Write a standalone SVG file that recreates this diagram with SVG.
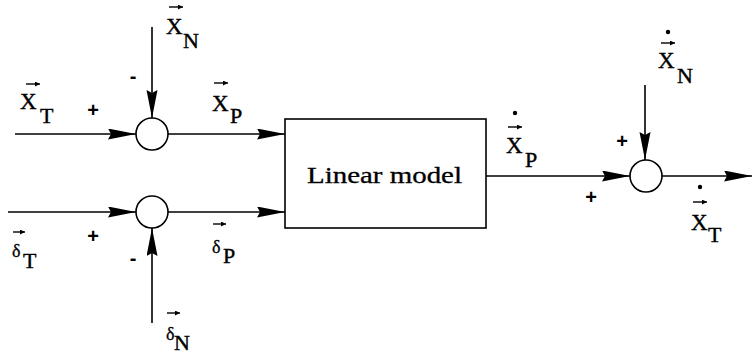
<svg xmlns="http://www.w3.org/2000/svg" width="752" height="356" viewBox="0 0 752 356">
<style>
.ln{stroke:#000;stroke-width:1.6;fill:none}
.c{stroke:#000;stroke-width:1.6;fill:#fff}
.t{font-family:"Liberation Serif",serif;font-size:22px;fill:#000;stroke:#000;stroke-width:0.4}
.x{font-size:23px}
.d{font-family:"Liberation Serif",serif;font-size:18px;fill:#000;stroke:#000;stroke-width:0.3}
.s{font-family:"Liberation Sans",sans-serif;font-size:20px;font-weight:bold;fill:#000;text-anchor:middle}
.va{stroke:#000;stroke-width:1.4;fill:none}
</style>
<defs>
<marker id="ah" markerUnits="userSpaceOnUse" markerWidth="30" markerHeight="12" refX="28" refY="5.5" orient="auto">
<path d="M0,0 L28,5.5 L0,11 L3,5.5 z" fill="#000"/>
</marker>
<marker id="va" markerUnits="userSpaceOnUse" markerWidth="7" markerHeight="6" refX="5" refY="2.5" orient="auto">
<path d="M0,0 L5,2.5 L0,5 z" fill="#000"/>
</marker>
</defs>
<rect width="752" height="356" fill="#fff"/>
<g id="connectors">
<line class="ln" x1="15" y1="134" x2="136" y2="134" marker-end="url(#ah)"/>
<line class="ln" x1="152" y1="27" x2="152" y2="118" marker-end="url(#ah)"/>
<line class="ln" x1="168" y1="134" x2="285" y2="134" marker-end="url(#ah)"/>
<line class="ln" x1="8" y1="212" x2="136" y2="212" marker-end="url(#ah)"/>
<line class="ln" x1="152" y1="323" x2="152" y2="228" marker-end="url(#ah)"/>
<line class="ln" x1="168" y1="212" x2="285" y2="212" marker-end="url(#ah)"/>
<line class="ln" x1="486" y1="176" x2="630" y2="176" marker-end="url(#ah)"/>
<line class="ln" x1="645" y1="85" x2="645" y2="160" marker-end="url(#ah)"/>
<line class="ln" x1="662" y1="176" x2="752" y2="176" marker-end="url(#ah)"/>
</g>
<g id="sum1"><circle class="c" cx="152" cy="134" r="16"/></g>
<g id="sum2"><circle class="c" cx="152" cy="212" r="16"/></g>
<g id="sum3"><circle class="c" cx="646" cy="176" r="16"/></g>
<g id="model">
<rect class="ln" x="285" y="119" width="201" height="109"/>
<text class="t" x="307" y="183" textLength="155" lengthAdjust="spacingAndGlyphs" style="font-size:23px;stroke-width:0.3">Linear model</text>
</g>
<g id="labels">
<text class="t x" x="20" y="109">X</text><text class="t" x="40" y="123">T</text>
<line class="va" x1="26" y1="84" x2="40" y2="84" marker-end="url(#va)"/>
<text class="t x" x="166" y="34">X</text><text class="t" x="183" y="48">N</text>
<line class="va" x1="169" y1="7" x2="183" y2="7" marker-end="url(#va)"/>
<text class="t x" x="212" y="111">X</text><text class="t" x="230" y="123">P</text>
<line class="va" x1="214" y1="83" x2="228" y2="83" marker-end="url(#va)"/>
<text class="d" x="12" y="257">δ</text><text class="t" x="23" y="268">T</text>
<line class="va" x1="13" y1="232" x2="25" y2="232" marker-end="url(#va)"/>
<text class="d" x="212" y="253">δ</text><text class="t" x="223" y="263">P</text>
<line class="va" x1="213" y1="224" x2="226" y2="224" marker-end="url(#va)"/>
<text class="d" x="166" y="340">δ</text><text class="t" x="174" y="350">N</text>
<line class="va" x1="167" y1="313" x2="180" y2="313" marker-end="url(#va)"/>
<circle cx="515" cy="113" r="2.2" fill="#000"/>
<line class="va" x1="508" y1="127" x2="522" y2="127" marker-end="url(#va)"/>
<text class="t x" x="506" y="153">X</text><text class="t" x="525" y="167">P</text>
<circle cx="668" cy="32" r="2.2" fill="#000"/>
<line class="va" x1="661" y1="43" x2="675" y2="43" marker-end="url(#va)"/>
<text class="t x" x="658" y="68">X</text><text class="t" x="677" y="83">N</text>
<circle cx="700" cy="187" r="2.2" fill="#000"/>
<line class="va" x1="693" y1="202" x2="707" y2="202" marker-end="url(#va)"/>
<text class="t x" x="691" y="230">X</text><text class="t" x="708" y="242">T</text>
</g>
<g id="signs">
<text class="s" x="93" y="117">+</text>
<text class="s" x="133" y="83">-</text>
<text class="s" x="93" y="243">+</text>
<text class="s" x="133" y="265">-</text>
<text class="s" x="622" y="148">+</text>
<text class="s" x="591" y="204">+</text>
</g>
</svg>
